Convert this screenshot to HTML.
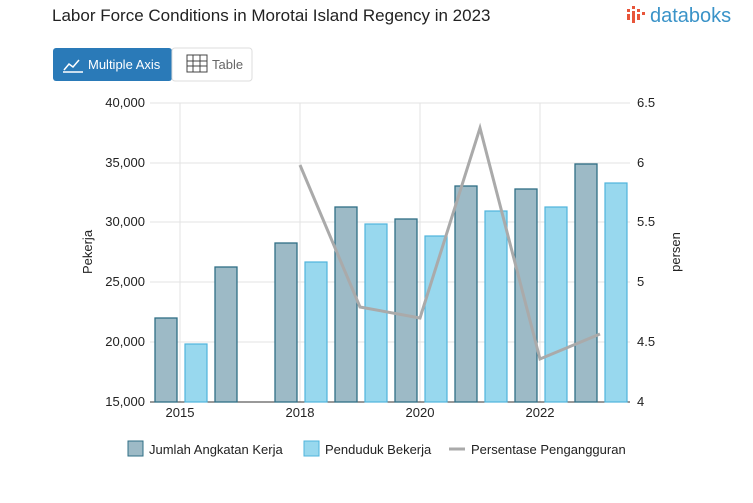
<!DOCTYPE html>
<html><head><meta charset="utf-8"><style>
body{margin:0;background:#fff;width:753px;height:498px;overflow:hidden;font-family:"Liberation Sans",sans-serif}
</style></head><body>
<svg width="753" height="498" xmlns="http://www.w3.org/2000/svg" font-family="Liberation Sans, sans-serif">
<text x="52" y="21" font-size="17" fill="#222">Labor Force Conditions in Morotai Island Regency in 2023</text>
<g fill="#e8553a">
<rect x="627" y="9" width="3" height="3"/><rect x="627" y="14" width="3" height="6"/>
<rect x="632" y="6" width="3" height="3"/><rect x="632" y="11" width="3" height="12"/>
<rect x="637" y="9" width="3" height="3"/><rect x="637" y="14" width="3" height="6"/>
<rect x="642" y="12" width="3" height="3"/></g>
<text x="650" y="22" font-size="20" fill="#3a93c8">databoks</text>
<rect x="53" y="48" width="119" height="33" rx="3" fill="#2a7ab8"/>
<rect x="172" y="48" width="80" height="33" rx="3" fill="#fff" stroke="#ddd"/>
<path d="M63 72h20M64 70l5-6 4 3 6-7" stroke="#fff" fill="none" stroke-width="1.5"/>
<text x="88" y="69" font-size="13" fill="#fff">Multiple Axis</text>
<g stroke="#444" fill="none"><rect x="187" y="55" width="20" height="17"/><path d="M187 61h20M187 66h20M193 55v17M200 55v17"/></g>
<text x="212" y="69" font-size="13" fill="#666">Table</text>
<g stroke="#e3e3e3" stroke-width="1">
<line x1="150" y1="103" x2="630" y2="103"/><line x1="150" y1="163" x2="630" y2="163"/><line x1="150" y1="222" x2="630" y2="222"/><line x1="150" y1="282" x2="630" y2="282"/><line x1="150" y1="342" x2="630" y2="342"/>
<line x1="180" y1="103" x2="180" y2="402"/><line x1="300" y1="103" x2="300" y2="402"/><line x1="420" y1="103" x2="420" y2="402"/><line x1="540" y1="103" x2="540" y2="402"/>
</g>
<line x1="150" y1="402" x2="630" y2="402" stroke="#333"/>
<g font-size="13" fill="#222" text-anchor="end">
<text x="145" y="107">40,000</text><text x="145" y="167">35,000</text><text x="145" y="226">30,000</text><text x="145" y="286">25,000</text><text x="145" y="346">20,000</text><text x="145" y="406">15,000</text></g>
<g font-size="13" fill="#222">
<text x="637" y="107">6.5</text><text x="637" y="167">6</text><text x="637" y="226">5.5</text><text x="637" y="286">5</text><text x="637" y="346">4.5</text><text x="637" y="406">4</text></g>
<g font-size="13" fill="#222" text-anchor="middle">
<text x="180" y="417">2015</text><text x="300" y="417">2018</text><text x="420" y="417">2020</text><text x="540" y="417">2022</text></g>
<text transform="translate(92 252) rotate(-90)" font-size="13" text-anchor="middle" fill="#222">Pekerja</text>
<text transform="translate(680 252) rotate(-90)" font-size="13" text-anchor="middle" fill="#222">persen</text>
<g fill="#9dbac6" stroke="#2f6f86" stroke-width="1.3">
<rect x="155" y="318" width="22" height="84"/><rect x="215" y="267" width="22" height="135"/><rect x="275" y="243" width="22" height="159"/><rect x="335" y="207" width="22" height="195"/><rect x="395" y="219" width="22" height="183"/><rect x="455" y="186" width="22" height="216"/><rect x="515" y="189" width="22" height="213"/><rect x="575" y="164" width="22" height="238"/></g>
<g fill="#98d8ee" stroke="#4fb5dc" stroke-width="1.2">
<rect x="185" y="344" width="22" height="58"/><rect x="305" y="262" width="22" height="140"/><rect x="365" y="224" width="22" height="178"/><rect x="425" y="236" width="22" height="166"/><rect x="485" y="211" width="22" height="191"/><rect x="545" y="207" width="22" height="195"/><rect x="605" y="183" width="22" height="219"/></g>
<polyline points="300,165 360,307 420,318 480,128 540,359 600,334" fill="none" stroke="#aaa" stroke-width="3"/>
<rect x="128" y="441" width="15" height="15" fill="#9dbac6" stroke="#2f6f86"/>
<text x="149" y="454" font-size="13" fill="#222">Jumlah Angkatan Kerja</text>
<rect x="304" y="441" width="15" height="15" fill="#98d8ee" stroke="#4fb5dc"/>
<text x="325" y="454" font-size="13" fill="#222">Penduduk Bekerja</text>
<line x1="449" y1="449" x2="465" y2="449" stroke="#aaa" stroke-width="3"/>
<text x="471" y="454" font-size="13" fill="#222">Persentase Pengangguran</text>
</svg>
</body></html>
